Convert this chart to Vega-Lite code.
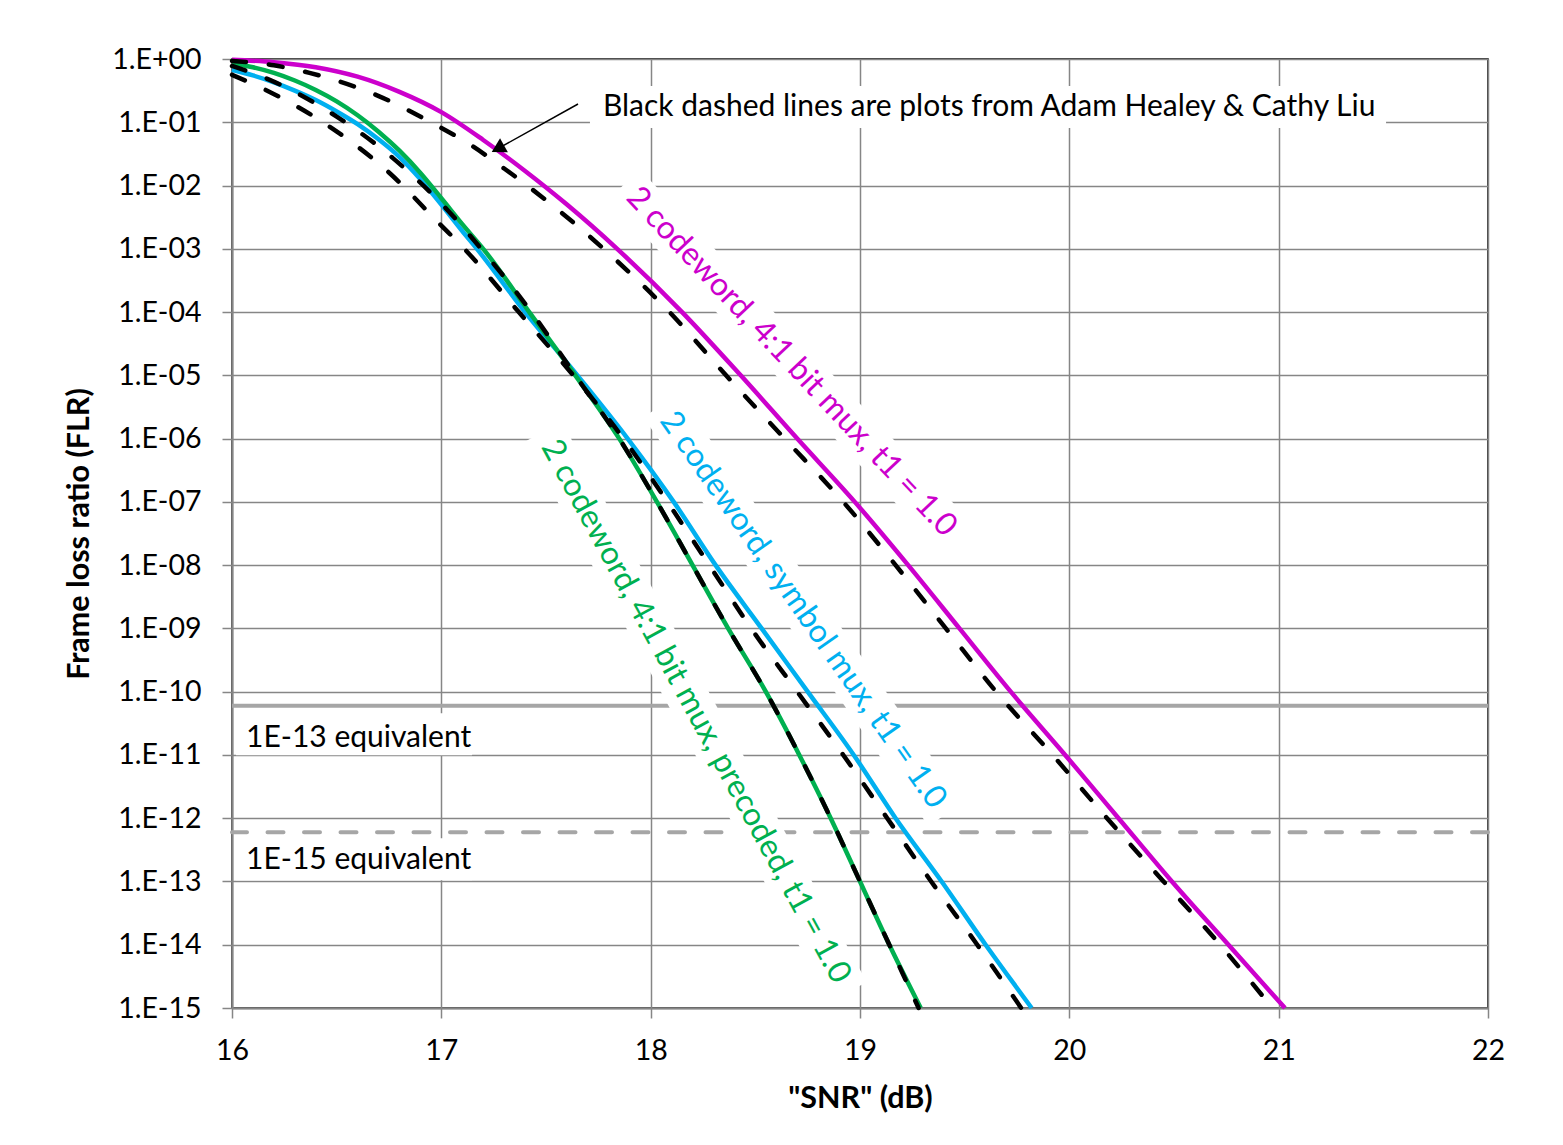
{
  "$schema": "https://vega.github.io/schema/vega-lite/v6.json",
  "width": 1256,
  "height": 949,
  "autosize": {"type": "none"},
  "padding": {"left": 232, "top": 59, "right": 75, "bottom": 137},
  "background": "white",
  "config": {
    "view": {"stroke": "black", "strokeWidth": 1.5},
    "font": "Lato",
    "axis": {
      "grid": true,
      "gridColor": "#868686",
      "gridWidth": 1.5,
      "domainColor": "#868686",
      "domainWidth": 2,
      "tickColor": "#868686",
      "tickWidth": 1.5,
      "tickSize": 10,
      "labelFont": "Lato",
      "labelFontSize": 28.5,
      "labelColor": "black",
      "labelFlush": false,
      "titleFont": "Lato",
      "titleFontSize": 30.5,
      "titleFontWeight": "bold",
      "titleColor": "black"
    }
  },
  "datasets": {
    "curves": [
      {"s": "magenta", "snr": 16.0, "flr": 0.977},
      {"s": "magenta", "snr": 16.2, "flr": 0.891},
      {"s": "magenta", "snr": 16.4, "flr": 0.741},
      {"s": "magenta", "snr": 16.6, "flr": 0.525},
      {"s": "magenta", "snr": 16.8, "flr": 0.302},
      {"s": "magenta", "snr": 17.0, "flr": 0.1445},
      {"s": "magenta", "snr": 17.2, "flr": 0.0525},
      {"s": "magenta", "snr": 17.4, "flr": 0.017},
      {"s": "magenta", "snr": 17.6, "flr": 0.00501},
      {"s": "magenta", "snr": 17.84, "flr": 1e-3},
      {"s": "magenta", "snr": 18.15, "flr": 1e-4},
      {"s": "magenta", "snr": 18.43, "flr": 1e-5},
      {"s": "magenta", "snr": 18.70, "flr": 1e-6},
      {"s": "magenta", "snr": 18.975, "flr": 1e-7},
      {"s": "magenta", "snr": 19.23, "flr": 1e-8},
      {"s": "magenta", "snr": 19.475, "flr": 1e-9},
      {"s": "magenta", "snr": 19.72, "flr": 1e-10},
      {"s": "magenta", "snr": 19.98, "flr": 1e-11},
      {"s": "magenta", "snr": 20.235, "flr": 1e-12},
      {"s": "magenta", "snr": 20.49, "flr": 1e-13},
      {"s": "magenta", "snr": 20.76, "flr": 1e-14},
      {"s": "magenta", "snr": 21.03, "flr": 1e-15},

      {"s": "blue", "snr": 16.0, "flr": 0.676},
      {"s": "blue", "snr": 16.1, "flr": 0.55},
      {"s": "blue", "snr": 16.2, "flr": 0.427},
      {"s": "blue", "snr": 16.3, "flr": 0.316},
      {"s": "blue", "snr": 16.4, "flr": 0.224},
      {"s": "blue", "snr": 16.5, "flr": 0.148},
      {"s": "blue", "snr": 16.6, "flr": 0.0933},
      {"s": "blue", "snr": 16.7, "flr": 0.0537},
      {"s": "blue", "snr": 16.8, "flr": 0.0282},
      {"s": "blue", "snr": 16.9, "flr": 0.0126},
      {"s": "blue", "snr": 17.0, "flr": 0.00501},
      {"s": "blue", "snr": 17.1, "flr": 0.00191},
      {"s": "blue", "snr": 17.17, "flr": 1e-3},
      {"s": "blue", "snr": 17.40, "flr": 1e-4},
      {"s": "blue", "snr": 17.65, "flr": 1e-5},
      {"s": "blue", "snr": 17.89, "flr": 1e-6},
      {"s": "blue", "snr": 18.11, "flr": 1e-7},
      {"s": "blue", "snr": 18.31, "flr": 1e-8},
      {"s": "blue", "snr": 18.53, "flr": 1e-9},
      {"s": "blue", "snr": 18.75, "flr": 1e-10},
      {"s": "blue", "snr": 18.97, "flr": 1e-11},
      {"s": "blue", "snr": 19.17, "flr": 1e-12},
      {"s": "blue", "snr": 19.39, "flr": 1e-13},
      {"s": "blue", "snr": 19.60, "flr": 1e-14},
      {"s": "blue", "snr": 19.82, "flr": 1e-15},

      {"s": "green", "snr": 16.0, "flr": 0.851},
      {"s": "green", "snr": 16.1, "flr": 0.741},
      {"s": "green", "snr": 16.2, "flr": 0.603},
      {"s": "green", "snr": 16.3, "flr": 0.457},
      {"s": "green", "snr": 16.4, "flr": 0.324},
      {"s": "green", "snr": 16.5, "flr": 0.214},
      {"s": "green", "snr": 16.6, "flr": 0.129},
      {"s": "green", "snr": 16.7, "flr": 0.0708},
      {"s": "green", "snr": 16.8, "flr": 0.0355},
      {"s": "green", "snr": 16.9, "flr": 0.0158},
      {"s": "green", "snr": 17.0, "flr": 0.0063},
      {"s": "green", "snr": 17.1, "flr": 0.00245},
      {"s": "green", "snr": 17.2, "flr": 1e-3},
      {"s": "green", "snr": 17.42, "flr": 1e-4},
      {"s": "green", "snr": 17.64, "flr": 1e-5},
      {"s": "green", "snr": 17.85, "flr": 1e-6},
      {"s": "green", "snr": 18.03, "flr": 1e-7},
      {"s": "green", "snr": 18.20, "flr": 1e-8},
      {"s": "green", "snr": 18.37, "flr": 1e-9},
      {"s": "green", "snr": 18.55, "flr": 1e-10},
      {"s": "green", "snr": 18.71, "flr": 1e-11},
      {"s": "green", "snr": 18.86, "flr": 1e-12},
      {"s": "green", "snr": 19.0, "flr": 1e-13},
      {"s": "green", "snr": 19.14, "flr": 1e-14},
      {"s": "green", "snr": 19.29, "flr": 1e-15},

      {"s": "ref1", "snr": 16.0, "flr": 0.933},
      {"s": "ref1", "snr": 16.2, "flr": 0.794},
      {"s": "ref1", "snr": 16.37, "flr": 0.603},
      {"s": "ref1", "snr": 16.69, "flr": 0.269},
      {"s": "ref1", "snr": 16.95, "flr": 0.1},
      {"s": "ref1", "snr": 17.15, "flr": 0.0417},
      {"s": "ref1", "snr": 17.3, "flr": 0.0186},
      {"s": "ref1", "snr": 17.41, "flr": 0.01},
      {"s": "ref1", "snr": 17.775, "flr": 1e-3},
      {"s": "ref1", "snr": 18.09, "flr": 1e-4},
      {"s": "ref1", "snr": 18.36, "flr": 1e-5},
      {"s": "ref1", "snr": 18.64, "flr": 1e-6},
      {"s": "ref1", "snr": 18.92, "flr": 1e-7},
      {"s": "ref1", "snr": 19.17, "flr": 1e-8},
      {"s": "ref1", "snr": 19.41, "flr": 1e-9},
      {"s": "ref1", "snr": 19.65, "flr": 1e-10},
      {"s": "ref1", "snr": 19.92, "flr": 1e-11},
      {"s": "ref1", "snr": 20.18, "flr": 1e-12},
      {"s": "ref1", "snr": 20.45, "flr": 1e-13},
      {"s": "ref1", "snr": 20.72, "flr": 1e-14},
      {"s": "ref1", "snr": 20.97, "flr": 1e-15},

      {"s": "ref2", "snr": 16.0, "flr": 0.562},
      {"s": "ref2", "snr": 16.18, "flr": 0.302},
      {"s": "ref2", "snr": 16.48, "flr": 0.0794},
      {"s": "ref2", "snr": 16.755, "flr": 0.0155},
      {"s": "ref2", "snr": 16.99, "flr": 0.00251},
      {"s": "ref2", "snr": 17.11, "flr": 1e-3},
      {"s": "ref2", "snr": 17.37, "flr": 1e-4},
      {"s": "ref2", "snr": 17.63, "flr": 1e-5},
      {"s": "ref2", "snr": 17.87, "flr": 1e-6},
      {"s": "ref2", "snr": 18.08, "flr": 1e-7},
      {"s": "ref2", "snr": 18.28, "flr": 1e-8},
      {"s": "ref2", "snr": 18.48, "flr": 1e-9},
      {"s": "ref2", "snr": 18.70, "flr": 1e-10},
      {"s": "ref2", "snr": 18.92, "flr": 1e-11},
      {"s": "ref2", "snr": 19.13, "flr": 1e-12},
      {"s": "ref2", "snr": 19.34, "flr": 1e-13},
      {"s": "ref2", "snr": 19.56, "flr": 1e-14},
      {"s": "ref2", "snr": 19.77, "flr": 1e-15},

      {"s": "ref3", "snr": 16.0, "flr": 0.776},
      {"s": "ref3", "snr": 16.18, "flr": 0.468},
      {"s": "ref3", "snr": 16.5, "flr": 0.123},
      {"s": "ref3", "snr": 16.77, "flr": 0.0269},
      {"s": "ref3", "snr": 17.03, "flr": 0.00407},
      {"s": "ref3", "snr": 17.19, "flr": 1e-3},
      {"s": "ref3", "snr": 17.43, "flr": 1e-4},
      {"s": "ref3", "snr": 17.64, "flr": 1e-5},
      {"s": "ref3", "snr": 17.85, "flr": 1e-6},
      {"s": "ref3", "snr": 18.03, "flr": 1e-7},
      {"s": "ref3", "snr": 18.20, "flr": 1e-8},
      {"s": "ref3", "snr": 18.37, "flr": 1e-9},
      {"s": "ref3", "snr": 18.55, "flr": 1e-10},
      {"s": "ref3", "snr": 18.71, "flr": 1e-11},
      {"s": "ref3", "snr": 18.86, "flr": 1e-12},
      {"s": "ref3", "snr": 19.0, "flr": 1e-13},
      {"s": "ref3", "snr": 19.14, "flr": 1e-14},
      {"s": "ref3", "snr": 19.28, "flr": 1e-15}
    ],
    "labels": [
      {"s": "magenta", "snr": 18.674, "flr": 1.64e-5, "text": "2 codeword, 4:1 bit mux, t1 = 1.0"},
      {"s": "blue", "snr": 18.729, "flr": 1.96e-9, "text": "2 codeword, symbol mux, t1 = 1.0"},
      {"s": "green", "snr": 18.217, "flr": 4.9e-11, "text": "2 codeword, 4:1 bit mux, precoded, t1 = 1.0"}
    ],
    "boxes": [
      {"snr": 17.876, "flr": 0.01064, "snr2": 19.472, "flr2": 2.52e-8},
      {"snr": 18.048, "flr": 3.33e-6, "snr2": 19.410, "flr2": 1.16e-12},
      {"snr": 17.487, "flr": 1.29e-6, "snr2": 18.944, "flr2": 1.78e-15},
      {"snr": 17.71, "flr": 0.174, "snr2": 21.513, "flr2": 0.174},
      {"snr": 16.019, "flr": 2.13e-11, "snr2": 17.147, "flr2": 2.13e-11},
      {"snr": 16.019, "flr": 2.25e-13, "snr2": 17.147, "flr2": 2.25e-13}
    ],
    "refs": [
      {"flr": 6e-11, "kind": "1E-13"},
      {"flr": 6e-13, "kind": "1E-15"}
    ],
    "notes": [
      {"snr": 17.772, "flr": 0.127, "text": "Black dashed lines are plots from Adam Healey & Cathy Liu"},
      {"snr": 16.067, "flr": 1.34e-11, "text": "1E-13 equivalent"},
      {"snr": 16.067, "flr": 1.55e-13, "text": "1E-15 equivalent"}
    ],
    "arrow": [
      {"snr": 17.653, "flr": 0.1944, "snr2": 17.27, "flr2": 0.0383}
    ]
  },
  "layer": [
    {
      "data": {"name": "refs"},
      "transform": [{"filter": "datum.kind == '1E-13'"}],
      "mark": {"type": "rule", "color": "#A6A6A6", "strokeWidth": 4},
      "encoding": {
        "y": {
          "field": "flr", "type": "quantitative",
          "scale": {"type": "log", "domain": [1e-15, 1], "nice": false},
          "axis": {
            "title": "Frame loss ratio (FLR)",
            "values": [1, 0.1, 0.01, 0.001, 1e-4, 1e-5, 1e-6, 1e-7, 1e-8, 1e-9, 1e-10, 1e-11, 1e-12, 1e-13, 1e-14, 1e-15],
            "labelExpr": "'1.E' + (datum.value >= 0.5 ? '+00' : '-' + (round(-log(datum.value)/LN10) < 10 ? '0' : '') + round(-log(datum.value)/LN10))",
            "labelPadding": 21,
            "titlePadding": 17
          }
        }
      }
    },
    {
      "data": {"name": "refs"},
      "transform": [{"filter": "datum.kind == '1E-15'"}],
      "mark": {"type": "rule", "color": "#A6A6A6", "strokeWidth": 4, "strokeDash": [16, 20.5], "strokeCap": "round"},
      "encoding": {
        "y": {"field": "flr", "type": "quantitative"}
      }
    },
    {
      "data": {"name": "boxes"},
      "mark": {"type": "rule", "color": "white", "strokeWidth": 42, "strokeCap": "butt"},
      "encoding": {
        "x": {
          "field": "snr", "type": "quantitative",
          "scale": {"domain": [16, 22], "nice": false, "zero": false},
          "axis": {
            "title": "\"SNR\" (dB)",
            "values": [16, 17, 18, 19, 20, 21, 22],
            "format": "d",
            "labelPadding": 18,
            "titlePadding": 19
          }
        },
        "y": {"field": "flr", "type": "quantitative"},
        "x2": {"field": "snr2"},
        "y2": {"field": "flr2"}
      }
    },
    {
      "data": {"name": "curves"},
      "transform": [{"filter": {"field": "s", "oneOf": ["magenta", "blue", "green"]}}],
      "mark": {"type": "line", "strokeWidth": 4.5, "interpolate": "monotone"},
      "encoding": {
        "x": {"field": "snr", "type": "quantitative"},
        "y": {"field": "flr", "type": "quantitative"},
        "color": {
          "field": "s", "type": "nominal",
          "scale": {"domain": ["magenta", "blue", "green"], "range": ["#CC00CC", "#00B0F0", "#00B050"]},
          "legend": null
        }
      }
    },
    {
      "data": {"name": "curves"},
      "transform": [{"filter": {"field": "s", "oneOf": ["ref1", "ref2", "ref3"]}}],
      "mark": {"type": "line", "strokeWidth": 4.5, "color": "black", "strokeDash": [14, 23], "strokeCap": "round", "interpolate": "monotone"},
      "encoding": {
        "x": {"field": "snr", "type": "quantitative"},
        "y": {"field": "flr", "type": "quantitative"},
        "detail": {"field": "s", "type": "nominal"}
      }
    },
    {
      "data": {"name": "arrow"},
      "mark": {"type": "rule", "color": "black", "strokeWidth": 1.5},
      "encoding": {
        "x": {"field": "snr", "type": "quantitative"},
        "y": {"field": "flr", "type": "quantitative"},
        "x2": {"field": "snr2"},
        "y2": {"field": "flr2"}
      }
    },
    {
      "data": {"name": "arrow"},
      "mark": {"type": "point", "shape": "triangle-up", "filled": true, "color": "black", "size": 260, "angle": 241, "opacity": 1},
      "encoding": {
        "x": {"field": "snr2", "type": "quantitative"},
        "y": {"field": "flr2", "type": "quantitative"}
      }
    },
    {
      "data": {"name": "labels"},
      "transform": [{"filter": "datum.s == 'magenta'"}],
      "mark": {"type": "text", "angle": 46.8, "fontSize": 32, "font": "Lato", "align": "center", "baseline": "middle"},
      "encoding": {
        "x": {"field": "snr", "type": "quantitative"},
        "y": {"field": "flr", "type": "quantitative"},
        "text": {"field": "text"},
        "color": {"field": "s", "type": "nominal"}
      }
    },
    {
      "data": {"name": "labels"},
      "transform": [{"filter": "datum.s == 'blue'"}],
      "mark": {"type": "text", "angle": 55.1, "fontSize": 32, "font": "Lato", "align": "center", "baseline": "middle"},
      "encoding": {
        "x": {"field": "snr", "type": "quantitative"},
        "y": {"field": "flr", "type": "quantitative"},
        "text": {"field": "text"},
        "color": {"field": "s", "type": "nominal"}
      }
    },
    {
      "data": {"name": "labels"},
      "transform": [{"filter": "datum.s == 'green'"}],
      "mark": {"type": "text", "angle": 61.45, "fontSize": 32, "font": "Lato", "align": "center", "baseline": "middle"},
      "encoding": {
        "x": {"field": "snr", "type": "quantitative"},
        "y": {"field": "flr", "type": "quantitative"},
        "text": {"field": "text"},
        "color": {"field": "s", "type": "nominal"}
      }
    },
    {
      "data": {"name": "notes"},
      "mark": {"type": "text", "fontSize": 30, "font": "Lato", "align": "left", "baseline": "alphabetic", "color": "black"},
      "encoding": {
        "x": {"field": "snr", "type": "quantitative"},
        "y": {"field": "flr", "type": "quantitative"},
        "text": {"field": "text"}
      }
    }
  ]
}
